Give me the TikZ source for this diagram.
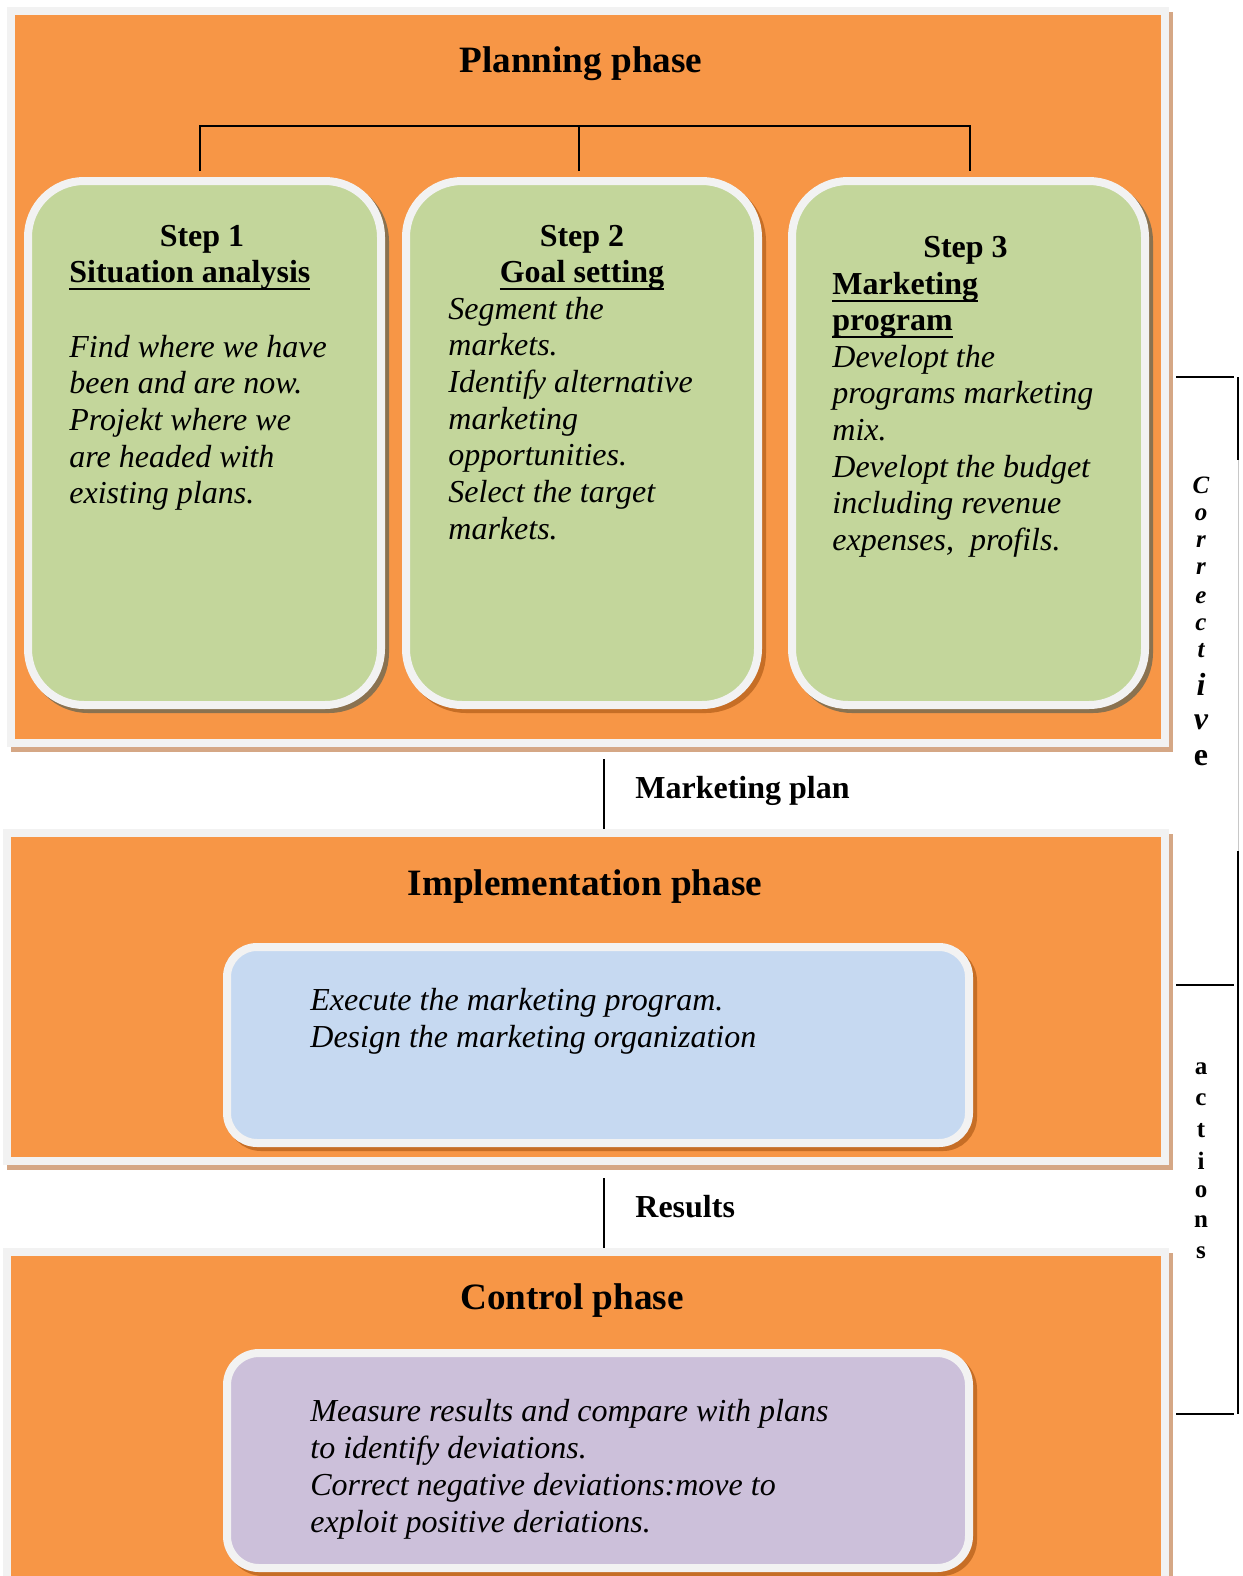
\documentclass[tikz,border=0pt]{standalone}
\usepackage{fontspec}
\setmainfont{Liberation Serif}
\usetikzlibrary{calc}

\definecolor{phaseorange}{HTML}{F79646}
\definecolor{framegray}{HTML}{F2F2F2}
\definecolor{phaseshadow}{HTML}{D5A785}
\definecolor{stepgreen}{HTML}{C3D69B}
\definecolor{execblue}{HTML}{C6D9F1}
\definecolor{ctrlpurple}{HTML}{CCC0DA}
\definecolor{darkshadow}{HTML}{8A7250}
\definecolor{rustshadow}{HTML}{C66E26}
\definecolor{rulegray}{HTML}{C8C8C8}

% thick underline sitting just below the baseline
\newsavebox{\ulbox}
\newcommand{\ulhead}[1]{\sbox{\ulbox}{#1}\rlap{\rule[-4.2pt]{\wd\ulbox}{1.4pt}}\usebox{\ulbox}}

\begin{document}
\begin{tikzpicture}[x=0.5pt,y=-0.5pt,
  phase/.style={rectangle, draw=framegray, line width=4pt, fill=phaseorange, inner sep=0pt,
    preaction={draw=phaseshadow, fill=phaseshadow, line width=4pt, transform canvas={shift={(2pt,-2.5pt)}}}},
  stepbox/.style={rectangle, rounded corners=28pt, draw=framegray, line width=4pt, fill=stepgreen,
    inner sep=0pt, minimum height=262pt,
    preaction={draw=#1, fill=#1, line width=4pt, transform canvas={shift={(2pt,-2pt)}}}},
  innerbox/.style={rectangle, draw=framegray, line width=4pt, inner sep=0pt, minimum width=371pt,
    preaction={draw=rustshadow, fill=rustshadow, line width=4pt, transform canvas={shift={(2pt,-2pt)}}}},
  conn/.style={line width=1pt, black},
  ttl/.style={font=\fontsize{18.6}{21}\selectfont\bfseries, anchor=base, inner sep=0pt},
  hd/.style={font=\fontsize{16}{18.4}\selectfont\bfseries, anchor=base, inner sep=0pt},
  body/.style={font=\fontsize{16}{18.4}\selectfont\itshape, anchor=base west, inner sep=0pt},
  vl/.style={font=\fontsize{12.5}{14}\selectfont\bfseries\itshape, inner sep=0pt},
  vlbig/.style={font=\fontsize{16}{18}\selectfont\bfseries\itshape, inner sep=0pt},
  vu/.style={font=\fontsize{12.5}{14}\selectfont\bfseries, inner sep=0pt}
]
\useasboundingbox (0,0) rectangle (1243,1576);

% ---------- phase panels ----------
\node[phase, minimum width=577pt, minimum height=366pt] (plan) at (588,377) {};
\node[phase, minimum width=579pt, minimum height=164pt] (impl) at (586,997) {};
\node[phase, minimum width=579pt, minimum height=194pt] (ctrl) at (586,1446) {};

% ---------- planning steps ----------
\node[stepbox=darkshadow, minimum width=176.5pt] (s1) at (204.5,443) {};
\node[stepbox=rustshadow, minimum width=176pt] (s2) at (582,443) {};
\node[stepbox=darkshadow, minimum width=176.5pt] (s3) at (968.5,443) {};

% ---------- implementation and control contents ----------
\node[innerbox, fill=execblue, rounded corners=15pt, minimum height=98pt] (exec) at (598,1045) {};
\node[innerbox, fill=ctrlpurple, rounded corners=16pt, minimum height=107.5pt] (meas) at (598,1460.5) {};

% ---------- bracket over the three steps ----------
\coordinate (khigh) at (0,126);
\coordinate (k1) at ([xshift=-2.25pt,yshift=3pt]s1.north);
\coordinate (k2) at ([xshift=-1.5pt,yshift=3pt]s2.north);
\coordinate (k3) at ([xshift=0.75pt,yshift=3pt]s3.north);
\draw[conn] (k1) -- (k1 |- khigh) -- (k3 |- khigh) -- (k3);
\draw[conn] (k2) -- (k2 |- khigh);

% ---------- links between phases ----------
\coordinate (mp) at ([xshift=8pt,yshift=-6pt]plan.south);
\draw[conn] (mp) -- (mp |- impl.north);
\coordinate (rs) at ([xshift=9pt,yshift=-6.5pt]impl.south);
\draw[conn] (rs) -- (rs |- ctrl.north);
\node[hd, anchor=base west] (mplan) at (635,798) {Marketing plan};
\node[hd, anchor=base west] (res) at (635,1217) {Results};

% ---------- titles ----------
\node[ttl] (tplan) at (581,72) {Planning phase};
\node[ttl] (timpl) at (585,895) {Implementation phase};
\node[ttl] (tctrl) at (572,1309) {Control phase};

% ---------- step 1 ----------
\node[hd] (s1h) at (202,246) {Step 1};
\node[hd, anchor=base west] (s1u) at (69,282) {\ulhead{Situation analysis}};
\foreach \t [count=\i from 0] in {Find where we have, been and are now., Projekt where we, are headed with, existing plans.}
  \node[body] (s1b\i) at (69,{357+36.7*\i}) {\t};

% ---------- step 2 ----------
\node[hd] (s2h) at (582,246) {Step 2};
\node[hd] (s2u) at (582,282) {\ulhead{Goal setting}};
\foreach \t [count=\i from 0] in {Segment the, markets., Identify alternative, marketing, opportunities., Select the target, markets.}
  \node[body] (s2b\i) at (448,{319+36.7*\i}) {\t};

% ---------- step 3 ----------
\node[hd] (s3h) at (965.5,257) {Step 3};
\node[hd, anchor=base west] (s3u) at (832,294) {\ulhead{Marketing}};
\node[hd, anchor=base west] (s3v) at (832,330) {\ulhead{program}};
\foreach \t [count=\i from 0] in {Developt the, programs marketing, mix., Developt the budget, including revenue, {expenses,\ \ profils.}}
  \node[body] (s3b\i) at (832,{367+36.7*\i}) {\t};

% ---------- implementation text ----------
\node[body] (e1) at (310,1010) {Execute the marketing program.};
\node[body] (e2) at (310,1047) {Design the marketing organization};

% ---------- control text ----------
\foreach \t [count=\i from 0] in {Measure results and compare with plans, to identify deviations., Correct negative deviations:move to, exploit positive deriations.}
  \node[body] (m\i) at (310,{1421+37*\i}) {\t};

% ---------- corrective actions feedback bracket ----------
\coordinate (fb1) at (1238,377);
\coordinate (fb2) at (1238,460);
\coordinate (fb3) at (1238,851);
\coordinate (fb4) at (1238,1414);
\draw[line width=1pt] (1176,377) -- (1234,377);
\draw[line width=1pt] (1176,985) -- (1234,985);
\draw[line width=1pt] (1176,1414) -- (1234,1414);
\draw[line width=1.4pt] (fb1) -- (fb2);
\draw[line width=0.5pt, rulegray] (fb2) -- (fb3);
\draw[line width=1.4pt] (fb3) -- (fb4);

\node[vl] (c1) at (1201,485) {C};
\node[vl] (c2) at (1201,515) {o};
\node[vl] (c3) at (1201,542) {r};
\node[vl] (c4) at (1201,569) {r};
\node[vl] (c5) at (1201,598) {e};
\node[vl] (c6) at (1201,625) {c};
\node[vl] (c7) at (1201,651) {t};
\node[vlbig] (c8) at (1201,684) {i};
\node[vlbig] (c9) at (1201,722) {v};
\node[font=\fontsize{16}{18}\selectfont\bfseries, inner sep=0pt] (c10) at (1201,758) {e};

\foreach \ch [count=\i from 0] in {a,c,t,i,o,n,s}
  \node[vu] (a\i) at (1201,{1069+30.6*\i}) {\ch};

\end{tikzpicture}
\end{document}
